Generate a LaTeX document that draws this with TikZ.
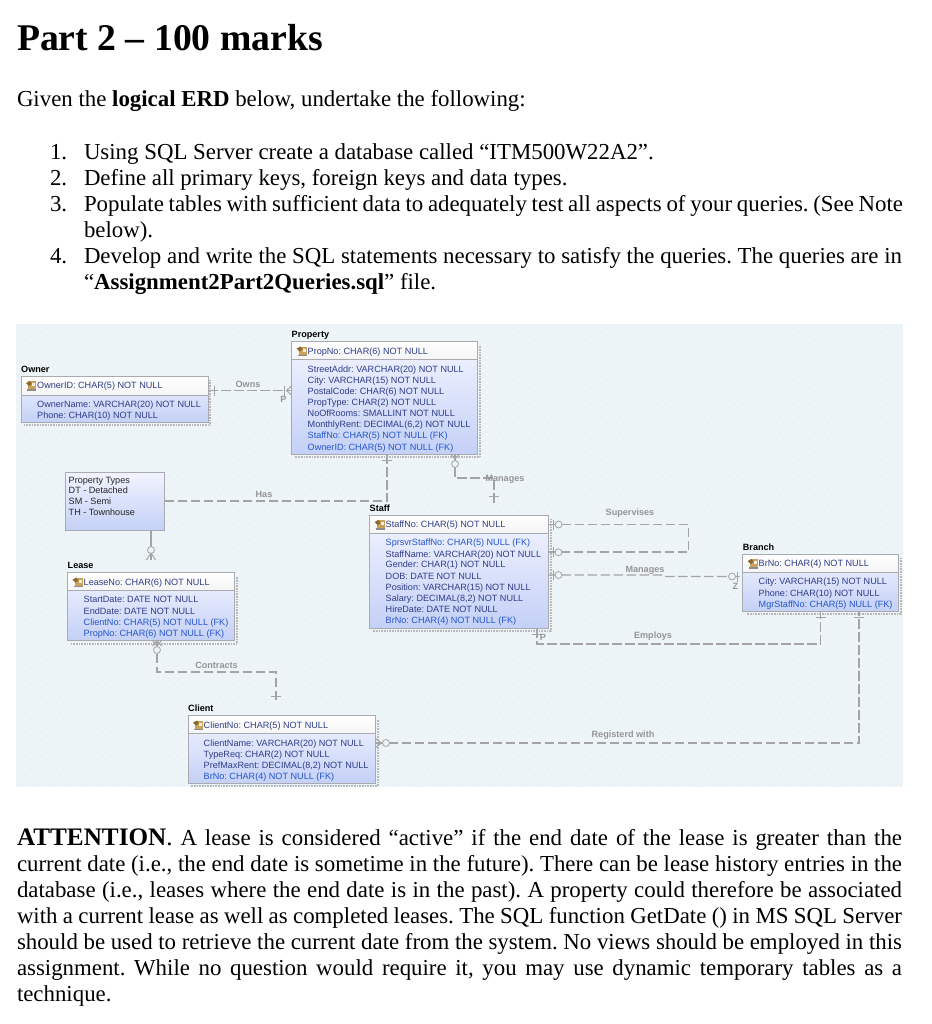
\documentclass[tikz,border=0pt]{standalone}
\usepackage{fontspec}
\setmainfont{Liberation Serif}
\newfontfamily\erdfont{Liberation Sans}
\usetikzlibrary{patterns.meta,shapes.geometric}
\frenchspacing
\definecolor{bgc}{HTML}{EDF4F7}
\definecolor{bdr}{HTML}{A9ABB0}
\definecolor{reln}{HTML}{A4A4A4}
\definecolor{attrc}{HTML}{2F3C88}
\definecolor{fkc}{HTML}{2456CC}
\definecolor{gradtop}{HTML}{F2F4FF}
\definecolor{gradbot}{HTML}{C4D0F6}
\definecolor{keytan}{HTML}{C9A35A}
\definecolor{keydark}{HTML}{8A6A30}
\newcounter{txt}
\newcommand{\bodysize}{\fontsize{22.85}{26}\selectfont}
\newcommand{\erdsize}{\erdfont\fontsize{9.1}{11}\selectfont}
\tikzset{
  x=1pt,y=-1pt,
  bodyline/.style={anchor=base west,inner sep=0pt,outer sep=0pt,font=\bodysize,text=black},
  entitybody/.style={anchor=north west,inner sep=0pt,outer sep=0pt,draw=bdr,line width=0.9pt,top color=gradtop,bottom color=gradbot},
  entityhead/.style={anchor=north west,inner sep=0pt,outer sep=0pt,draw=bdr,line width=0.9pt,top color=white,bottom color=white!96!black},
  etitle/.style={anchor=base west,inner sep=0pt,font=\erdsize\bfseries,text=black},
  attr/.style={anchor=base west,inner sep=0pt,font=\erdsize,text=attrc},
  fk/.style={anchor=base west,inner sep=0pt,font=\erdsize,text=fkc},
  plain/.style={anchor=base west,inner sep=0pt,font=\erdsize,text=black!85},
  rlabel/.style={anchor=base,inner sep=0pt,font=\erdsize\bfseries,text=black!42},
  rel/.style={draw=reln,line width=1.15pt,dash pattern=on 9.5pt off 3.5pt},
  relsolid/.style={draw=reln,line width=1pt},
  relcircle/.style={draw=reln,line width=0.8pt,fill=bgc},
  stipple/.style={draw=black!28,line width=2pt,dash pattern=on 0.6pt off 1pt},
}
\newcommand{\jline}[4]{\stepcounter{txt}\node[bodyline] (t\arabic{txt}) at (#1,#2) {\makebox[#3pt][s]{#4}};}
\newcommand{\fline}[3]{\stepcounter{txt}\node[bodyline] (t\arabic{txt}) at (#1,#2) {#3};}
\newcommand{\etext}[4]{\stepcounter{txt}\node[#1] (t\arabic{txt}) at (#2,#3) {#4};}
% name, title, x1,y1,x2,y2,headerbottom
\newcommand{\entity}[7]{%
  \draw[stipple] (#5+2,#4+4) -- (#5+2,#6+3) -- (#3+3,#6+3);
  \pgfmathsetlengthmacro{\ew}{#5-#3}\pgfmathsetlengthmacro{\eh}{#6-#4}\pgfmathsetlengthmacro{\hh}{#7-#4}
  \node[entitybody,minimum width=\ew,minimum height=\eh] (#1) at (#3,#4) {};
  \node[entityhead,minimum width=\ew,minimum height=\hh] (#1h) at (#3,#4) {};
  \etext{etitle}{#3}{#4-3.6}{#2}
  \keyicon{#3+5}{#4+5}
}
\newcommand{\keyicon}[2]{%
  \fill[keytan] (#1+2,#2+0) rectangle (#1+10,#2+9);
  \fill[black!45] (#1+1,#2+8) rectangle (#1+10,#2+9.5);
  \fill[keydark] (#1+0,#2+2) -- (#1+4,#2+0) -- (#1+6,#2+3) -- (#1+3,#2+5) -- cycle;
  \fill[white!80!keytan] (#1+6,#2+2) rectangle (#1+9,#2+5);
}
\newcommand{\tickv}[2]{\draw[relsolid] (#1,#2-5) -- (#1,#2+5);}
\newcommand{\tickh}[2]{\draw[relsolid] (#1-5,#2) -- (#1+5,#2);}
\begin{document}
\begin{tikzpicture}
\useasboundingbox (0,0) rectangle (931,1024);
\fill[white] (0,0) rectangle (931,1024);
% page text
\stepcounter{txt}\node[bodyline,font=\fontsize{37.7}{40}\selectfont\bfseries] (partt) at (17,51) {Part 2 – 100 marks};
\fline{17}{107}{Given the \textbf{logical ERD} below, undertake the following:}
\fline{50}{159.5}{1.}\fline{84}{159.5}{Using SQL Server create a database called “ITM500W22A2”.}
\fline{50}{185.5}{2.}\fline{84}{185.5}{Define all primary keys, foreign keys and data types.}
\fline{50}{211.5}{3.}\jline{84}{211.5}{819}{Populate tables with sufficient data to adequately test all aspects of your queries. (See Note}
\fline{84}{237.5}{below).}
\fline{50}{263.5}{4.}\jline{84}{263.5}{818}{Develop and write the SQL statements necessary to satisfy the queries. The queries are in}
\fline{84}{289.5}{“\textbf{Assignment2Part2Queries.sql}” file.}
\jline{17}{845}{885}{{\fontsize{25.2}{26}\selectfont\textbf{ATTENTION}.} A lease is considered “active” if the end date of the lease is greater than the}
\jline{17}{871}{885}{current date (i.e., the end date is sometime in the future). There can be lease history entries in the}
\jline{17}{897}{885}{database (i.e., leases where the end date is in the past). A property could therefore be associated}
\jline{17}{923}{885}{with a current lease as well as completed leases. The SQL function GetDate () in MS SQL Server}
\jline{17}{949}{885}{should be used to retrieve the current date from the system. No views should be employed in this}
\jline{17}{975}{885}{assignment. While no question would require it, you may use dynamic temporary tables as a}
\fline{17}{1001}{technique.}
% diagram background
\fill[bgc] (16,324) rectangle (902.5,787);
\fill[pattern={Dots[distance=6pt,radius=0.7pt,angle=45]},pattern color=white] (16,324) rectangle (902.5,787);
% entities
\entity{owner}{Owner}{21}{376}{208}{422}{395}
\entity{property}{Property}{291.5}{341.5}{477.5}{454}{359}
\entity{staff}{Staff}{369.5}{515}{548.7}{628}{533}
\entity{lease}{Lease}{67.5}{572.5}{234.5}{640.5}{590.5}
\entity{client}{Client}{188}{715.5}{375.5}{783}{733.5}
\entity{branch}{Branch}{742.7}{554}{898.7}{611}{572.5}
\node[entitybody,minimum width=99pt,minimum height=58pt] (ptypes) at (65,472) {};
% attributes
\etext{attr}{37}{388.5}{OwnerID: CHAR(5) NOT NULL}
\etext{attr}{37}{407.5}{OwnerName: VARCHAR(20) NOT NULL}
\etext{attr}{37}{418.5}{Phone: CHAR(10) NOT NULL}
\etext{attr}{307.5}{354.5}{PropNo: CHAR(6) NOT NULL}
\etext{attr}{307.5}{372}{StreetAddr: VARCHAR(20) NOT NULL}
\etext{attr}{307.5}{383}{City: VARCHAR(15) NOT NULL}
\etext{attr}{307.5}{394}{PostalCode: CHAR(6) NOT NULL}
\etext{attr}{307.5}{405}{PropType: CHAR(2) NOT NULL}
\etext{attr}{307.5}{416.5}{NoOfRooms: SMALLINT NOT NULL}
\etext{attr}{307.5}{427.5}{MonthlyRent: DECIMAL(6,2) NOT NULL}
\etext{fk}{307.5}{438.5}{StaffNo: CHAR(5) NOT NULL (FK)}
\etext{fk}{307.5}{450}{OwnerID: CHAR(5) NOT NULL (FK)}
\etext{plain}{68.5}{483}{Property Types}
\etext{plain}{68.5}{493.5}{DT - Detached}
\etext{plain}{68.5}{504.5}{SM - Semi}
\etext{plain}{68.5}{515}{TH - Townhouse}
\etext{attr}{385.5}{527.5}{StaffNo: CHAR(5) NOT NULL}
\etext{fk}{385.5}{545.5}{SprsvrStaffNo: CHAR(5) NULL (FK)}
\etext{attr}{385.5}{557}{StaffName: VARCHAR(20) NOT NULL}
\etext{attr}{385.5}{567.5}{Gender: CHAR(1) NOT NULL}
\etext{attr}{385.5}{579}{DOB: DATE NOT NULL}
\etext{attr}{385.5}{590}{Position: VARCHAR(15) NOT NULL}
\etext{attr}{385.5}{601.5}{Salary: DECIMAL(8,2) NOT NULL}
\etext{attr}{385.5}{612.5}{HireDate: DATE NOT NULL}
\etext{fk}{385.5}{623.5}{BrNo: CHAR(4) NOT NULL (FK)}
\etext{attr}{83.5}{585}{LeaseNo: CHAR(6) NOT NULL}
\etext{attr}{83.5}{602.5}{StartDate: DATE NOT NULL}
\etext{attr}{83.5}{614}{EndDate: DATE NOT NULL}
\etext{fk}{83.5}{625}{ClientNo: CHAR(5) NOT NULL (FK)}
\etext{fk}{83.5}{636.5}{PropNo: CHAR(6) NOT NULL (FK)}
\etext{attr}{203.5}{728}{ClientNo: CHAR(5) NOT NULL}
\etext{attr}{203.5}{746.5}{ClientName: VARCHAR(20) NOT NULL}
\etext{attr}{203.5}{757}{TypeReq: CHAR(2) NOT NULL}
\etext{attr}{203.5}{768.5}{PrefMaxRent: DECIMAL(8,2) NOT NULL}
\etext{fk}{203.5}{779.5}{BrNo: CHAR(4) NOT NULL (FK)}
\etext{attr}{758.5}{566.5}{BrNo: CHAR(4) NOT NULL}
\etext{attr}{758.5}{584.5}{City: VARCHAR(15) NOT NULL}
\etext{attr}{758.5}{596}{Phone: CHAR(10) NOT NULL}
\etext{fk}{758.5}{607}{MgrStaffNo: CHAR(5) NULL (FK)}
% connectors
\draw[rel] ([yshift=-14.5pt]owner.north east) -- ([yshift=-49pt]property.north west);
\draw[rel] ([xshift=95.5pt]property.south west) |- (ptypes.east);
\draw[relsolid,line width=1.3pt,shorten >=12.5pt] ([xshift=86pt]ptypes.south west) -- ([xshift=83.5pt]lease.north west);
\draw[rel,shorten >=12pt] ([xshift=163.5pt]property.south west) -- ++(0,24) -| ([xshift=124.5pt]staff.north west);
\draw[rel,shorten >=12.5pt] ([xshift=89.5pt]lease.south west) -- ++(0,31.5) -| ([xshift=88pt]client.north west);
\draw[rel] ([yshift=-9.5pt]staff.north east) -- ++(140,0) -- ++(0,27.5) -- ([yshift=-37pt]staff.north east);
\draw[rel] ([yshift=-60pt]staff.north east) -- ++(113,0) -- ++(2,1.5) -- ([yshift=-22.5pt]branch.north west);
\draw[rel] ([xshift=167.5pt]staff.south west) -- ++(0,16) -| ([xshift=78pt]branch.south west);
\draw[rel] ([yshift=-27.5pt]client.north east) -| ([xshift=116.3pt]branch.south west);
% connector ends
\tickv{214}{390.5}\tickv{284}{390.5}
\draw[relsolid] (291.5,386) -- (286.5,390.5) -- (291.5,395);
\tickh{387}{460}
\draw[relsolid] (450.5,454) -- (455,459) -- (459.5,454);
\draw[relcircle] (455,464) circle (3.5pt);
\tickh{494}{496}
\draw[relcircle] (151,550) circle (3.5pt);
\draw[relsolid] (151,553) -- (146.5,560); \draw[relsolid] (151,553) -- (155.5,560); \draw[relsolid] (151,553) -- (151,560);
\draw[relsolid] (152.5,646) -- (157,640.5) -- (161.5,646);
\draw[relsolid] (152.5,640.5) -- (157,646) -- (161.5,640.5);
\draw[relcircle] (157,650) circle (3.5pt);
\tickh{276}{696}
\draw[relsolid] (375.5,738.5) -- (381.5,743) -- (375.5,747.5);
\draw[relcircle] (386,743) circle (3.5pt);
\tickv{553}{524.5}\draw[relcircle] (558.5,524.5) circle (3.5pt);
\tickv{553}{552.3}\draw[relcircle] (558.5,552.3) circle (3.5pt);
\tickv{553}{575}\draw[relcircle] (558.5,575) circle (3.5pt);
\draw[relcircle] (732,576.5) circle (3.5pt);\tickv{737}{576.5}
\tickh{537}{634.5}\tickh{820.7}{617}\tickh{859}{617.5}
% labels
\etext{rlabel}{248}{387.5}{Owns}
\etext{rlabel}{264}{497}{Has}
\etext{rlabel}{505}{481}{Manages}
\etext{rlabel}{630}{515.5}{Supervises}
\etext{rlabel}{645}{572}{Manages}
\etext{rlabel}{653}{638.5}{Employs}
\etext{rlabel}{623}{737}{Registerd with}
\etext{rlabel}{216.5}{668.5}{Contracts}
\etext{rlabel}{283.5}{402.5}{P}
\etext{rlabel}{543}{640}{P}
\etext{rlabel}{735.5}{589.5}{Z}
\end{tikzpicture}
\end{document}
